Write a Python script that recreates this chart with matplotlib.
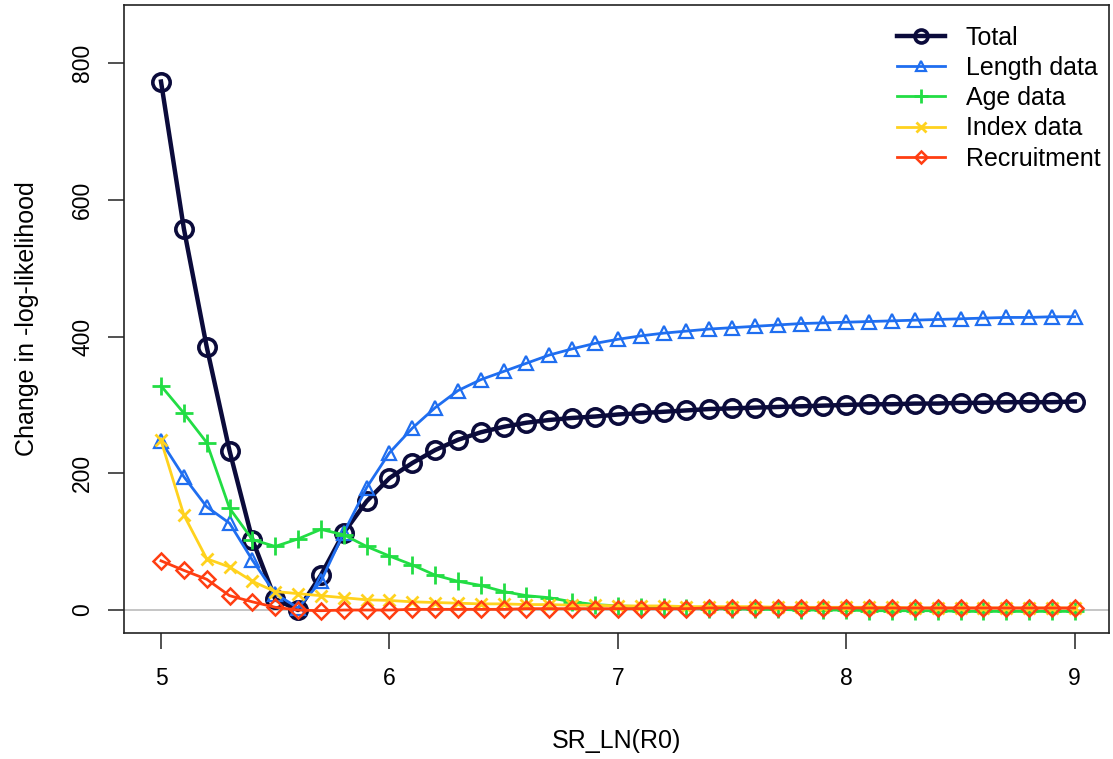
import numpy as np
import matplotlib
matplotlib.use("Agg")
import matplotlib.pyplot as plt

plt.rcParams['font.family'] = ['Liberation Sans', 'DejaVu Sans']

x = [round(5.0 + 0.1 * i, 1) for i in range(41)]

total = [773, 558, 385, 233, 103, 16, 0, 51, 113, 159,
         193, 215, 234, 249, 260, 268, 274, 278, 281, 283,
         286, 288, 290, 292, 294, 295, 296, 297, 298, 299,
         300, 301, 301, 302, 302, 303, 303, 304, 304, 304, 305]
length = [247, 195, 151, 127, 73, 24, 3, 42, 113, 179,
          230, 266, 296, 321, 337, 349, 361, 373, 382, 390,
          396, 401, 405, 408, 411, 413, 415, 417, 419, 420,
          421, 422, 423, 424, 425, 426, 427, 428, 428, 429, 429]
age = [328, 288, 245, 149, 103, 93, 104, 118, 110, 93,
       79, 66, 51, 42, 36, 27, 21, 18, 12, 8,
       6, 5, 4, 3, 2, 2, 1, 1, 0, 0,
       0, -1, -1, -1, -1, -2, -2, -2, -2, -2, -2]
index = [248, 139, 75, 63, 42, 27, 24, 21, 18, 15,
         14, 12, 11, 10, 9, 9, 8, 8, 7, 7,
         6, 6, 6, 5, 5, 5, 5, 4, 4, 4,
         4, 4, 4, 3, 3, 3, 3, 3, 3, 3, 3]
recruit = [72, 58, 45, 21, 12, 4, 0, -1, 0, 0,
           0, 1, 1, 1, 1, 1, 2, 2, 2, 2,
           2, 2, 2, 2, 3, 3, 3, 3, 3, 3,
           3, 3, 3, 3, 3, 3, 3, 3, 3, 3, 3]

labels = ["Total", "Length data", "Age data", "Index data", "Recruitment"]
colors = ["#0B0B3B", "#1F6EF0", "#22DD44", "#FFD21E", "#FF3E12"]

fig = plt.figure(figsize=(11.13, 7.59), dpi=100)
ax = fig.add_axes([124/1113, 1 - 633/759, (1109-124)/1113, (633-5)/759])

ax.axhline(0, color="#BBBBBB", lw=1.2, zorder=0)

ax.plot(x, total, color=colors[0], lw=3.2, marker='o', ms=12.5, mew=2.6,
        mfc='none', label=labels[0])
ax.plot(x, length, color=colors[1], lw=2.0, marker='^', ms=10, mew=1.6,
        mfc='none', label=labels[1])
ax.plot(x, age, color=colors[2], lw=2.0, marker='+', ms=13, mew=2.0,
        label=labels[2])
ax.plot(x, index, color=colors[3], lw=2.0, marker='x', ms=9, mew=2.0,
        label=labels[3])
ax.plot(x, recruit, color=colors[4], lw=2.0, marker='D', ms=8.5, mew=1.8,
        mfc='none', label=labels[4])

ax.set_xlim(4.838, 9.15)
ax.set_ylim(-33.6, 885)
ax.set_xticks([5, 6, 7, 8, 9])
ax.set_yticks([0, 200, 400, 600, 800])
for s in ax.spines.values():
    s.set_linewidth(1.2)
    s.set_color("#222222")
ax.tick_params(axis='both', direction='out', length=11.5, width=1.1,
               labelsize=16.5, color="#222222")
ax.tick_params(axis='x', pad=13)
ax.tick_params(axis='y', pad=10)
for lab in ax.get_yticklabels():
    lab.set_rotation(90)
    lab.set_va('center')

ax.set_xlabel("SR_LN(R0)", fontsize=18, labelpad=28)
ax.set_ylabel("Change in -log-likelihood", fontsize=18, labelpad=23)

ax.legend(loc='upper right', bbox_to_anchor=(1.004, 0.987), frameon=False,
          fontsize=18, handlelength=1.9, handletextpad=0.85,
          labelspacing=0.25, borderaxespad=0.2, borderpad=0.3,
          markerscale=0.75)

fig.savefig("out.png", dpi=100)
